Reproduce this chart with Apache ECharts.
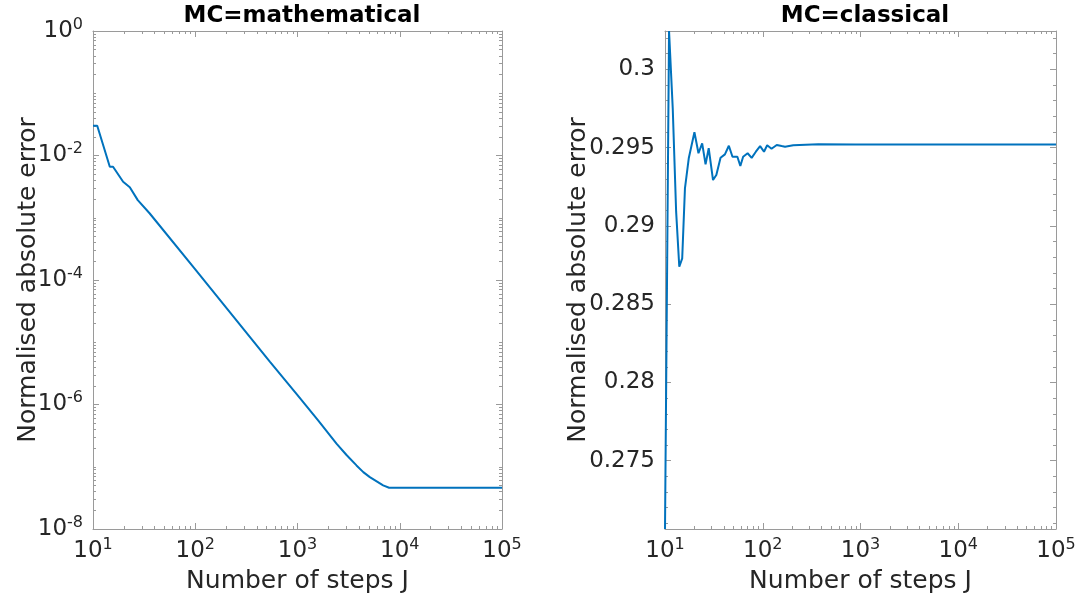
<!DOCTYPE html>
<html>
<head>
<meta charset="utf-8">
<script src="https://cdn.jsdelivr.net/npm/echarts@6/dist/echarts.min.js"></script>
<style>
  html, body { margin: 0; padding: 0; background: #fff; }
  #chart { width: 1090px; height: 603px; }
</style>
</head>
<body>
<div id="chart"></div>
<script>
// MC=mathematical (log-log)
const leftJ = [10, 11, 14.6, 15.7, 19.7, 22.9, 27.4, 35.9, 100, 536, 1000, 1591, 2407, 3000, 3776, 4400, 5098, 6880, 7870, 100000]
const leftErr = [0.0300, 0.0300, 0.00658, 0.00658, 0.00378, 0.00310, 0.00192, 0.00117,
  1.48e-4, 4.9e-6, 1.42e-6, 5.57e-7, 2.35e-7, 1.56e-7, 1.05e-7, 8.2e-8, 6.82e-8, 5.02e-8, 4.6e-8, 4.6e-8]

// MC=classical (semilog x)
const rightJ = [10, 11, 12, 13, 14, 15, 16, 17.5, 20, 22, 24, 26, 28, 31, 33.5, 37, 41, 45, 49, 55,
  59, 63, 70, 77, 85, 94, 103, 111, 123, 139, 156, 169, 205, 370, 879, 100000]
const rightErr = [0.27064, 0.30245, 0.29751, 0.29091, 0.28739, 0.28793, 0.29240, 0.29432, 0.29598,
  0.29464, 0.29527, 0.29393, 0.29496, 0.29293, 0.29325, 0.29435, 0.29457, 0.29512, 0.29442, 0.29442,
  0.29383, 0.29442, 0.29464, 0.29435, 0.29474, 0.29510, 0.29474, 0.29515, 0.29493, 0.29517, 0.29510,
  0.29506, 0.29515, 0.29521, 0.29520, 0.29520]

// tick labels
const xTicks = [10, 100, 1000, 10000, 100000]
const leftYTicks = [1e-8, 1e-6, 1e-4, 1e-2, 1]
const rightYTicks = [0.275, 0.28, 0.285, 0.29, 0.295, 0.3]
const rightYRange = [0.27064, 0.30245]

const textColor = '#262626'
const axisColor = '#9a9a9a'
const lineColor = '#0072bd'
const fontFamily = 'DejaVu Sans'
const tickFont = 23
const labelFont = 25

// minor tick positions for log axes (2..9 per decade, plus unlabeled decades)
const logMinor = (lo, hi, majors) => {
  const out = []
  for (let e = lo; e < hi; e++) {
    for (let m = 1; m <= 9; m++) {
      const v = Number((m * Math.pow(10, e)).toPrecision(6))
      if (!majors.some(t => Math.abs(t - v) / v < 1e-6)) out.push(v)
    }
  }
  return out
}
const xMinor = logMinor(1, 5, xTicks)
const leftYMinor = logMinor(-8, 0, leftYTicks)
const rightYMinor = []
for (let k = 271; k <= 302; k++) {
  if (k % 5 !== 0) rightYMinor.push(k / 1000)
}

const supFmt = v => '10{sup|' + Math.round(Math.log10(v)) + '}'
const richSup = { sup: { fontSize: 16, verticalAlign: 'top', padding: [0, 0, 13, 0], color: textColor, fontFamily } }

const buildX = (gi) => {
  const base = { type: 'log', logBase: 10, min: 10, max: 100000, gridIndex: gi, splitLine: { show: false } }
  return [
    Object.assign({}, base, {
      position: 'bottom',
      name: 'Number of steps J',
      nameLocation: 'middle',
      nameGap: 40,
      nameMoveOverlap: false,
      nameTextStyle: { fontSize: labelFont, color: textColor, fontFamily },
      axisLine: { show: true, lineStyle: { color: axisColor, width: 1 } },
      axisTick: { show: true, inside: true, length: 6, customValues: xTicks, lineStyle: { color: axisColor } },
      axisLabel: { customValues: xTicks, formatter: supFmt, fontSize: tickFont, color: textColor, fontFamily, margin: 8, rich: richSup }
    }),
    Object.assign({}, base, {
      position: 'top',
      axisLine: { show: true, lineStyle: { color: axisColor, width: 1 } },
      axisTick: { show: true, inside: true, length: 6, customValues: xTicks, lineStyle: { color: axisColor } },
      axisLabel: { show: false }
    }),
    Object.assign({}, base, {
      position: 'bottom',
      axisLine: { show: false },
      axisTick: { show: true, inside: true, length: 3, customValues: xMinor, lineStyle: { color: axisColor } },
      axisLabel: { show: false }
    }),
    Object.assign({}, base, {
      position: 'top',
      axisLine: { show: false },
      axisTick: { show: true, inside: true, length: 3, customValues: xMinor, lineStyle: { color: axisColor } },
      axisLabel: { show: false }
    })
  ]
}

const buildY = (gi, base, majors, minors, fmt, nameGap) => [
  Object.assign({}, base, {
    gridIndex: gi,
    position: 'left',
    name: 'Normalised absolute error',
    nameLocation: 'middle',
    nameGap,
    nameMoveOverlap: false,
    nameTextStyle: { fontSize: labelFont, color: textColor, fontFamily },
    splitLine: { show: false },
    axisLine: { show: true, lineStyle: { color: axisColor, width: 1 } },
    axisTick: { show: true, inside: true, length: 6, customValues: majors, lineStyle: { color: axisColor } },
    axisLabel: { customValues: majors, formatter: fmt, fontSize: tickFont, color: textColor, fontFamily, margin: 10, rich: richSup }
  }),
  Object.assign({}, base, {
    gridIndex: gi,
    position: 'right',
    splitLine: { show: false },
    axisLine: { show: true, lineStyle: { color: axisColor, width: 1 } },
    axisTick: { show: true, inside: true, length: 6, customValues: majors, lineStyle: { color: axisColor } },
    axisLabel: { show: false }
  }),
  Object.assign({}, base, {
    gridIndex: gi,
    position: 'left',
    splitLine: { show: false },
    axisLine: { show: false },
    axisTick: { show: true, inside: true, length: 3, customValues: minors, lineStyle: { color: axisColor } },
    axisLabel: { show: false }
  }),
  Object.assign({}, base, {
    gridIndex: gi,
    position: 'right',
    splitLine: { show: false },
    axisLine: { show: false },
    axisTick: { show: true, inside: true, length: 3, customValues: minors, lineStyle: { color: axisColor } },
    axisLabel: { show: false }
  })
]

const chart = echarts.init(document.getElementById('chart'), null, { renderer: 'canvas' })

const option = {
  animation: false,
  backgroundColor: '#fff',
  title: [
    { text: 'MC=mathematical', left: 297, top: 0, textAlign: 'center',
      textStyle: { fontSize: 23, fontWeight: 'bold', color: '#000', fontFamily } },
    { text: 'MC=classical', left: 860, top: 0, textAlign: 'center',
      textStyle: { fontSize: 23, fontWeight: 'bold', color: '#000', fontFamily } }
  ],
  grid: [
    { left: 93, right: 588, top: 31, bottom: 74 },
    { left: 665, right: 34, top: 31, bottom: 74 }
  ],
  xAxis: [...buildX(0), ...buildX(1)],
  yAxis: [
    ...buildY(0, { type: 'log', logBase: 10, min: 1e-8, max: 1 }, leftYTicks, leftYMinor, supFmt, 52),
    ...buildY(1, { type: 'value', min: rightYRange[0], max: rightYRange[1] }, rightYTicks, rightYMinor, v => String(Number(v.toFixed(3))), 74)
  ],
  series: [
    {
      type: 'line',
      xAxisIndex: 0,
      yAxisIndex: 0,
      data: leftJ.map((j, i) => [j, leftErr[i]]),
      showSymbol: false,
      lineStyle: { color: lineColor, width: 2 },
      clip: true
    },
    {
      type: 'line',
      xAxisIndex: 4,
      yAxisIndex: 4,
      data: rightJ.map((j, i) => [j, rightErr[i]]),
      showSymbol: false,
      lineStyle: { color: lineColor, width: 2 },
      clip: true
    }
  ]
}

chart.setOption(option)
</script>
</body>
</html>
